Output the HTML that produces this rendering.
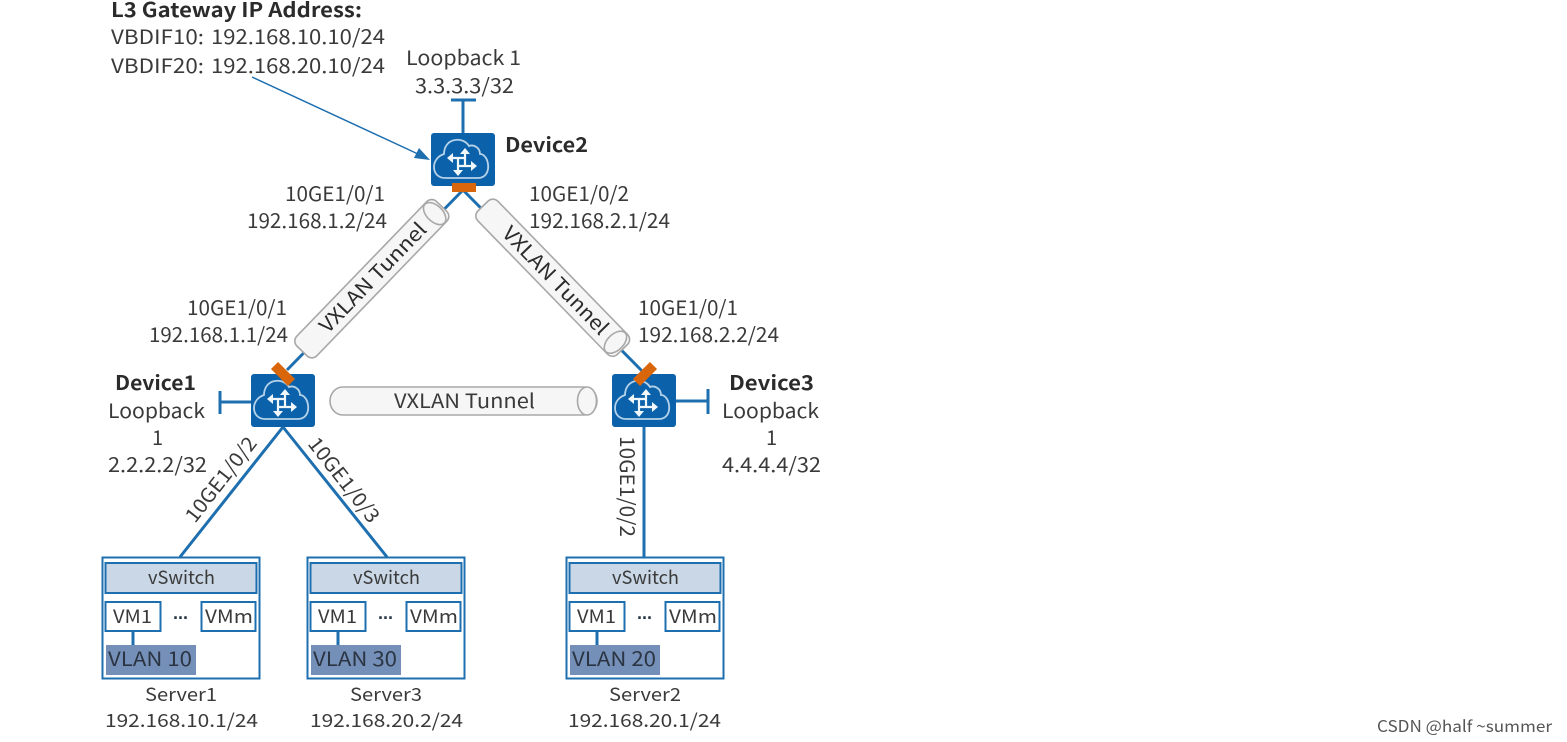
<!DOCTYPE html>
<html><head><meta charset="utf-8"><style>
html,body{margin:0;padding:0;background:#fff;width:1567px;height:742px;overflow:hidden}
svg{display:block}
text{font-family:"Noto Sans CJK SC","Liberation Sans",sans-serif;font-size:20px;fill:#3a3a3a}
.b{font-weight:700;fill:#2b2b2b}
.s{font-size:18.5px}
.l{stroke:#1d6fb0;stroke-width:3;fill:none}
.t{stroke:#1d6fb0;stroke-width:2;fill:none}
.d{font-family:"Liberation Sans",sans-serif;font-weight:700;font-size:18px;fill:#2b3a4a}
.tb{fill:#f5f6f5;stroke:#a8a8a8;stroke-width:1.6}
</style></head><body>
<svg width="1567" height="742" viewBox="0 0 1567 742" xmlns="http://www.w3.org/2000/svg">
<defs>
<symbol id="router" viewBox="0 0 64 53" width="64" height="53">
<rect x="0" y="0" width="64" height="53" rx="3" fill="#0b62ab"/>
<path d="M14 45 H47 C55 45 58 38 57 31 C56 24 52 21 49 21 C49 15 43 11 38 13 C35 8 29 6 24 7 C17 8 13 14 13 21 C7 23 3 28 3 34 C3 41 8 45 14 45 Z" fill="none" stroke="#b5d2e9" stroke-width="1.8"/>
<g stroke="#f2f7fb" stroke-width="2.2" fill="none">
<path d="M34 20 V33 M27 33 H41 M27 25 V38 M21 25 H34"/>
</g>
<g fill="#f2f7fb">
<path d="M34 15 l-5 6 h10 Z M46 33 l-6 -5 v10 Z M16 25 l6 -5 v10 Z M27 43 l-5 -6 h10 Z"/>
</g>
</symbol>
<symbol id="tube" viewBox="0 0 270 30" width="270" height="30">
<path d="M14 1 H255 C262 1 268 7 268 15 C268 23 262 29 255 29 H14 C6 29 1 22 1 15 C1 8 6 1 14 1 Z" fill="#f5f6f5" stroke="#a8a8a8" stroke-width="1.6"/>
<ellipse cx="258" cy="15" rx="9.5" ry="14" fill="#f5f6f5" stroke="#a8a8a8" stroke-width="1.6"/>
</symbol>
</defs>

<text class="b" x="111" y="17" textLength="251" lengthAdjust="spacingAndGlyphs">L3 Gateway IP Address:</text>
<text x="111" y="44" textLength="93" lengthAdjust="spacingAndGlyphs">VBDIF10:</text>
<text x="211" y="44" textLength="174" lengthAdjust="spacingAndGlyphs">192.168.10.10/24</text>
<text x="111" y="73" textLength="93" lengthAdjust="spacingAndGlyphs">VBDIF20:</text>
<text x="211" y="73" textLength="174" lengthAdjust="spacingAndGlyphs">192.168.20.10/24</text>
<text x="406" y="65" textLength="115" lengthAdjust="spacingAndGlyphs">Loopback 1</text>
<text x="415" y="93" textLength="99" lengthAdjust="spacingAndGlyphs">3.3.3.3/32</text>

<!-- callout arrow -->
<path d="M252 77 L418 154" stroke="#1d6fb0" stroke-width="1.5" fill="none"/>
<path d="M430 160 L414 158 L419 148 Z" fill="#1d6fb0"/>

<!-- loopback stem device 2 -->
<path class="l" d="M463 134 V100 M451 100 H476"/>

<!-- links -->
<path class="l" d="M463 190 L287 370 M463 190 L645 374"/>
<path class="l" d="M251 402 H221 M220 391 V414"/>
<path class="l" d="M676 401 H708 M708 389 V414"/>
<path class="l" d="M283 427 L180 557 M283 427 L387 557"/>
<path class="l" d="M644 427 V557"/>

<!-- tube 1 -->
<g transform="translate(302,351) rotate(-46)">
<rect class="tb" x="0" y="-14" width="201" height="28" rx="7"/>
<ellipse class="tb" cx="191" cy="0" rx="8" ry="13.5"/>
<text x="102" y="7" text-anchor="middle" style="fill:#2b2b2b" textLength="144" lengthAdjust="spacingAndGlyphs">VXLAN Tunnel</text>
</g>
<!-- tube 2 -->
<g transform="translate(483,206) rotate(45.8)">
<rect class="tb" x="0" y="-14" width="200" height="28" rx="7"/>
<ellipse class="tb" cx="190" cy="0" rx="8" ry="13.5"/>
<text x="104" y="7" text-anchor="middle" style="fill:#2b2b2b" textLength="142" lengthAdjust="spacingAndGlyphs">VXLAN Tunnel</text>
</g>
<use href="#tube" x="329" y="386" width="270" height="30"/>
<text x="394" y="408" textLength="141" lengthAdjust="spacingAndGlyphs">VXLAN Tunnel</text>

<!-- routers -->
<use href="#router" x="431" y="133" width="64" height="53"/>
<use href="#router" x="251" y="374" width="64" height="53"/>
<use href="#router" x="612" y="374" width="64" height="53"/>
<rect x="452" y="183" width="24" height="9" fill="#d9660a"/>
<rect x="271" y="369" width="24" height="10" fill="#d9660a" transform="rotate(45 283 374)"/>
<rect x="633" y="369" width="24" height="10" fill="#d9660a" transform="rotate(-45 645 374)"/>

<text class="b" x="505" y="152" textLength="83" lengthAdjust="spacingAndGlyphs">Device2</text>
<text class="b" x="115" y="390" textLength="81" lengthAdjust="spacingAndGlyphs">Device1</text>
<text class="b" x="729" y="390" textLength="85" lengthAdjust="spacingAndGlyphs">Device3</text>

<text x="285" y="201" textLength="100" lengthAdjust="spacingAndGlyphs">10GE1/0/1</text>
<text x="247" y="228" textLength="140" lengthAdjust="spacingAndGlyphs">192.168.1.2/24</text>
<text x="529" y="201" textLength="100" lengthAdjust="spacingAndGlyphs">10GE1/0/2</text>
<text x="529" y="228" textLength="141" lengthAdjust="spacingAndGlyphs">192.168.2.1/24</text>
<text x="187" y="315" textLength="100" lengthAdjust="spacingAndGlyphs">10GE1/0/1</text>
<text x="149" y="342" textLength="139" lengthAdjust="spacingAndGlyphs">192.168.1.1/24</text>
<text x="638" y="315" textLength="100" lengthAdjust="spacingAndGlyphs">10GE1/0/1</text>
<text x="638" y="342" textLength="141" lengthAdjust="spacingAndGlyphs">192.168.2.2/24</text>

<text x="108" y="418" textLength="97" lengthAdjust="spacingAndGlyphs">Loopback</text>
<text x="152" y="445">1</text>
<text x="108" y="472" textLength="99" lengthAdjust="spacingAndGlyphs">2.2.2.2/32</text>
<text x="722" y="418" textLength="97" lengthAdjust="spacingAndGlyphs">Loopback</text>
<text x="766" y="445">1</text>
<text x="722" y="472" textLength="99" lengthAdjust="spacingAndGlyphs">4.4.4.4/32</text>

<text transform="translate(195,524) rotate(-52)" textLength="102" lengthAdjust="spacingAndGlyphs">10GE1/0/2</text>
<text transform="translate(307,444) rotate(52)" textLength="102" lengthAdjust="spacingAndGlyphs">10GE1/0/3</text>
<text transform="translate(620,436) rotate(90)" textLength="101" lengthAdjust="spacingAndGlyphs">10GE1/0/2</text>

<!-- Server 1 -->
<g transform="translate(102,557)">
<rect class="t" x="0.5" y="0.5" width="157" height="121"/>
<rect x="3.5" y="6" width="151" height="30" fill="#c9d7e6" stroke="#1d6fb0" stroke-width="2"/>
<text class="s" x="46" y="27" textLength="67" lengthAdjust="spacingAndGlyphs">vSwitch</text>
<rect class="t" x="3.5" y="45" width="55" height="29" fill="#fff"/>
<rect class="t" x="99.5" y="45" width="54" height="29" fill="#fff"/>
<text class="s" x="11" y="66" textLength="39" lengthAdjust="spacingAndGlyphs">VM1</text>
<text class="s" x="103" y="66" textLength="48" lengthAdjust="spacingAndGlyphs">VMm</text>
<text class="d" x="71" y="62">...</text>
<path class="l" d="M31 74 V88"/>
<rect x="4" y="88" width="90" height="30" fill="#7590b8"/>
<text x="6" y="109" textLength="84" lengthAdjust="spacingAndGlyphs" style="fill:#2b3442">VLAN 10</text>
</g>
<text class="s" x="145" y="701" textLength="72" lengthAdjust="spacingAndGlyphs">Server1</text>
<text class="s" x="105" y="727" textLength="153" lengthAdjust="spacingAndGlyphs">192.168.10.1/24</text>

<!-- Server 3 -->
<g transform="translate(307,557)">
<rect class="t" x="0.5" y="0.5" width="157" height="121"/>
<rect x="3.5" y="6" width="151" height="30" fill="#c9d7e6" stroke="#1d6fb0" stroke-width="2"/>
<text class="s" x="46" y="27" textLength="67" lengthAdjust="spacingAndGlyphs">vSwitch</text>
<rect class="t" x="3.5" y="45" width="55" height="29" fill="#fff"/>
<rect class="t" x="99.5" y="45" width="54" height="29" fill="#fff"/>
<text class="s" x="11" y="66" textLength="39" lengthAdjust="spacingAndGlyphs">VM1</text>
<text class="s" x="103" y="66" textLength="48" lengthAdjust="spacingAndGlyphs">VMm</text>
<text class="d" x="71" y="62">...</text>
<path class="l" d="M31 74 V88"/>
<rect x="4" y="88" width="90" height="30" fill="#7590b8"/>
<text x="6" y="109" textLength="84" lengthAdjust="spacingAndGlyphs" style="fill:#2b3442">VLAN 30</text>
</g>
<text class="s" x="350" y="701" textLength="72" lengthAdjust="spacingAndGlyphs">Server3</text>
<text class="s" x="310" y="727" textLength="153" lengthAdjust="spacingAndGlyphs">192.168.20.2/24</text>

<!-- Server 2 -->
<g transform="translate(566,557)">
<rect class="t" x="0.5" y="0.5" width="157" height="121"/>
<rect x="3.5" y="6" width="151" height="30" fill="#c9d7e6" stroke="#1d6fb0" stroke-width="2"/>
<text class="s" x="46" y="27" textLength="67" lengthAdjust="spacingAndGlyphs">vSwitch</text>
<rect class="t" x="3.5" y="45" width="55" height="29" fill="#fff"/>
<rect class="t" x="99.5" y="45" width="54" height="29" fill="#fff"/>
<text class="s" x="11" y="66" textLength="39" lengthAdjust="spacingAndGlyphs">VM1</text>
<text class="s" x="103" y="66" textLength="48" lengthAdjust="spacingAndGlyphs">VMm</text>
<text class="d" x="71" y="62">...</text>
<path class="l" d="M31 74 V88"/>
<rect x="4" y="88" width="90" height="30" fill="#7590b8"/>
<text x="6" y="109" textLength="84" lengthAdjust="spacingAndGlyphs" style="fill:#2b3442">VLAN 20</text>
</g>
<text class="s" x="609" y="701" textLength="72" lengthAdjust="spacingAndGlyphs">Server2</text>
<text class="s" x="568" y="727" textLength="153" lengthAdjust="spacingAndGlyphs">192.168.20.1/24</text>

<text x="1377" y="732" textLength="175" lengthAdjust="spacingAndGlyphs" style="font-size:16px;fill:#555">CSDN @half ~summer</text>
</svg>
</body></html>
